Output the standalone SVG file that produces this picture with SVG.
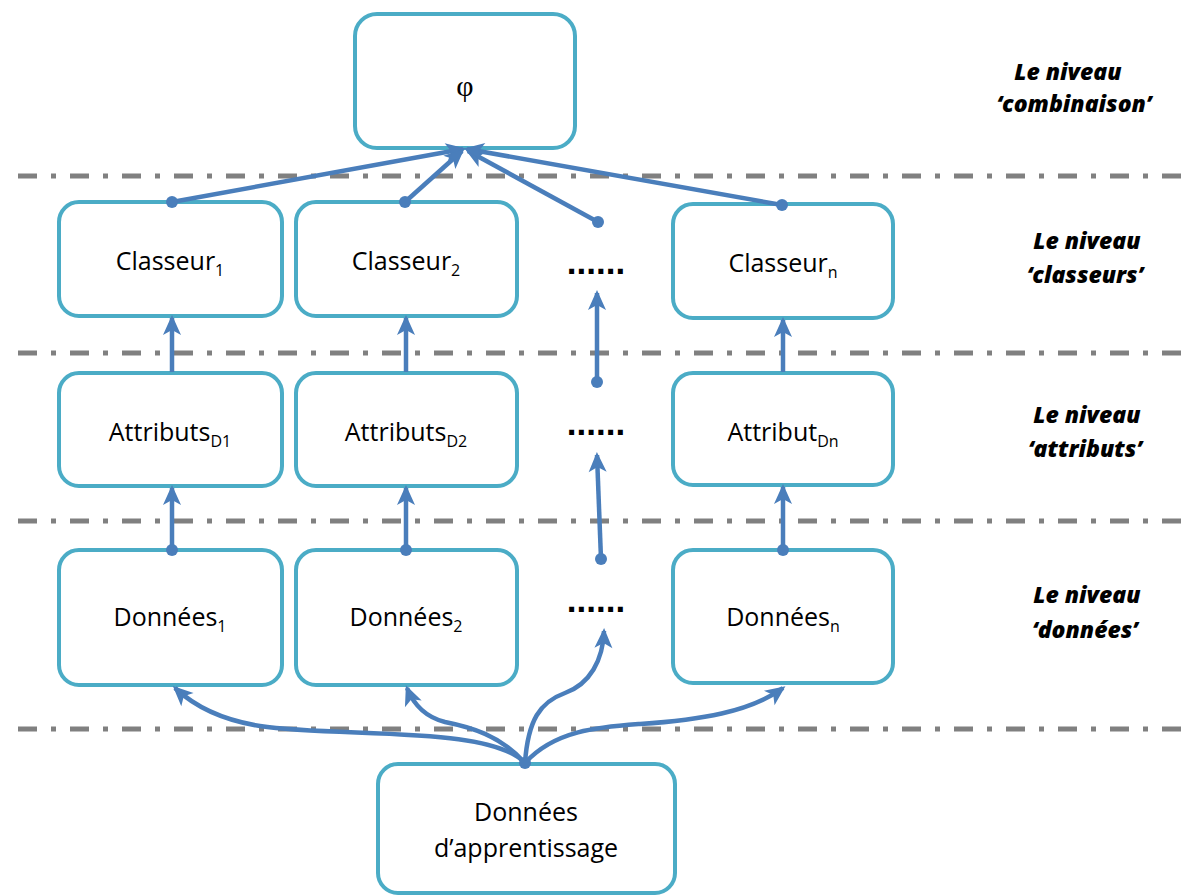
<svg xmlns="http://www.w3.org/2000/svg" width="1184" height="896" viewBox="0 0 1184 896">
<defs>
<style>
.box{fill:#fff;stroke:#4BACC6;stroke-width:4}
.sep{stroke:#808080;stroke-width:5;stroke-dasharray:19 14 5 14;fill:none}
.c{fill:none;stroke:#4A7EBB;stroke-width:4.5;stroke-linecap:butt}
.a{marker-end:url(#arr)}
.dot{fill:#4A7EBB}
.t{font-family:"Open Sans","Liberation Sans",sans-serif;font-size:25px;fill:#000;text-anchor:middle}
.s{font-size:16px}
.lv{font-family:"Open Sans","Liberation Sans",sans-serif;font-size:23px;font-weight:800;font-style:italic;fill:#000;text-anchor:middle}
.dots{font-family:"Liberation Sans",sans-serif;font-size:35px;font-weight:bold;fill:#000;text-anchor:middle}
</style>
<marker id="arr" markerUnits="userSpaceOnUse" markerWidth="22" markerHeight="20" refX="17" refY="9" orient="auto" overflow="visible">
<path d="M0,0 L20,9 L0,18 L5,9 Z" fill="#4A7EBB"/>
</marker>
</defs>

<g id="separators">
<line class="sep" x1="18" y1="176" x2="1184" y2="176"/>
<line class="sep" x1="18" y1="353" x2="1184" y2="353"/>
<line class="sep" x1="18" y1="521" x2="1184" y2="521"/>
<line class="sep" x1="18" y1="729" x2="1184" y2="729"/>
</g>

<g id="phi"><rect class="box" x="355" y="14" width="220" height="134" rx="22"/><text x="465" y="96" style="font-family:'Liberation Serif',serif;font-size:30px;text-anchor:middle">φ</text></g>

<g id="classeur1"><rect class="box" x="59" y="202" width="223" height="114" rx="20"/><text class="t" x="170" y="270">Classeur<tspan class="s" dy="6">1</tspan></text></g>
<g id="classeur2"><rect class="box" x="296" y="202" width="221" height="114" rx="20"/><text class="t" x="406" y="270">Classeur<tspan class="s" dy="6">2</tspan></text></g>
<g id="classeurn"><rect class="box" x="673" y="204" width="220" height="114" rx="20"/><text class="t" x="783" y="272">Classeur<tspan class="s" dy="6">n</tspan></text></g>

<g id="attributs1"><rect class="box" x="59" y="373" width="223" height="113" rx="20"/><text class="t" x="170" y="441">Attributs<tspan class="s" dy="6">D1</tspan></text></g>
<g id="attributs2"><rect class="box" x="296" y="373" width="221" height="113" rx="20"/><text class="t" x="406" y="441">Attributs<tspan class="s" dy="6">D2</tspan></text></g>
<g id="attributn"><rect class="box" x="673" y="373" width="220" height="112" rx="20"/><text class="t" x="783" y="441">Attribut<tspan class="s" dy="6">Dn</tspan></text></g>

<g id="donnees1"><rect class="box" x="59" y="550" width="223" height="135" rx="20"/><text class="t" x="170" y="626">Données<tspan class="s" dy="6">1</tspan></text></g>
<g id="donnees2"><rect class="box" x="296" y="550" width="221" height="135" rx="20"/><text class="t" x="406" y="626">Données<tspan class="s" dy="6">2</tspan></text></g>
<g id="donneesn"><rect class="box" x="673" y="550" width="220" height="133" rx="20"/><text class="t" x="783" y="626">Données<tspan class="s" dy="6">n</tspan></text></g>

<g id="apprentissage"><rect class="box" x="378" y="764" width="297" height="129" rx="20"/><text class="t" x="526" y="821">Données</text><text class="t" x="526" y="857">d’apprentissage</text></g>

<g id="ellipses">
<text class="dots" x="596" y="274">......</text>
<text class="dots" x="596" y="435">......</text>
<text class="dots" x="596" y="612">......</text>
</g>

<g id="levels">
<text class="lv" x="1068" y="80">Le niveau</text>
<text class="lv" x="1074" y="112">‘combinaison’</text>
<text class="lv" x="1087" y="249">Le niveau</text>
<text class="lv" x="1085" y="283">‘classeurs’</text>
<text class="lv" x="1087" y="423">Le niveau</text>
<text class="lv" x="1085" y="457">‘attributs’</text>
<text class="lv" x="1087" y="603">Le niveau</text>
<text class="lv" x="1085" y="638">‘données’</text>
</g>

<g id="connectors">
<path class="c a" d="M172,202 L463,149"/>
<path class="c a" d="M405,202 L462,151"/>
<path class="c a" d="M598,222 L468,151"/>
<path class="c a" d="M782,205 L467,149"/>
<circle class="dot" cx="172" cy="202" r="6"/>
<circle class="dot" cx="405" cy="202" r="6"/>
<circle class="dot" cx="598" cy="222" r="6"/>
<circle class="dot" cx="782" cy="205" r="6"/>

<path class="c a" d="M172,372 L172,318"/>
<path class="c a" d="M406,372 L406,318"/>
<path class="c a" d="M783,372 L783,320"/>
<path class="c a" d="M597,382 L597,293"/>
<circle class="dot" cx="597" cy="382" r="6"/>

<path class="c a" d="M172,550 L172,488"/>
<path class="c a" d="M406,550 L406,488"/>
<path class="c a" d="M783,550 L783,487"/>
<path class="c a" d="M601,559 L597,455"/>
<circle class="dot" cx="172" cy="550" r="6"/>
<circle class="dot" cx="406" cy="550" r="6"/>
<circle class="dot" cx="783" cy="550" r="6"/>
<circle class="dot" cx="601" cy="559" r="6"/>

<path class="c a" d="M525,763 C490,725 340,738 260,726 C215,719 190,702 175,688"/>
<path class="c a" d="M525,763 C500,735 470,727 445,722 C425,717 413,703 407,688"/>
<path class="c a" d="M525,763 C528,720 540,702 565,693 C590,684 603,660 604,631"/>
<path class="c a" d="M525,763 C555,730 600,727 640,724 C700,720 750,712 783,688"/>
<circle class="dot" cx="525" cy="763" r="6"/>
</g>
</svg>
